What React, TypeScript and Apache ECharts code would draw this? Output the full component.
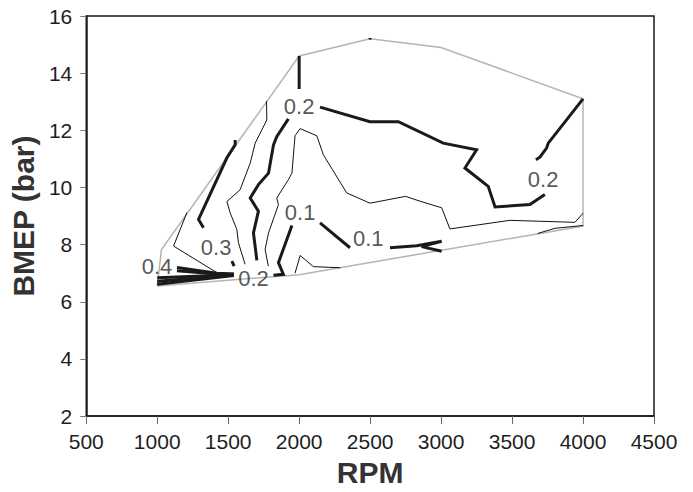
import React, { useEffect, useRef } from "react";
import * as echarts from "echarts";

// Axis ticks
const xMin = 500;
const xMax = 4500;
const xStep = 500;
const yMin = 2;
const yMax = 16;
const yStep = 2;

// Measured operating boundary (gray hull) [RPM, BMEP]
const boundary: number[][] = [
  [1000, 6.55], [1030, 7.83], [2000, 14.6], [2500, 15.2], [3000, 14.9],
  [4000, 13.1], [4000, 8.65], [2000, 6.95], [1000, 6.55],
];

// Thick (labelled) contour pieces
const c02Top: number[][] = [[2000, 14.6], [2000, 13.45]];
const c02Right: number[][] = [
  [2147, 12.81], [2499, 12.3], [2699, 12.3], [3015, 11.55], [3250, 11.32],
  [3168, 10.68], [3332, 10.04], [3380, 9.32], [3626, 9.4], [3731, 9.75],
];
const c02RightEnd: number[][] = [
  [3668, 10.97], [3696, 11.06], [3743, 11.38], [3755, 11.55], [4000, 13.1],
];
const c02Mid: number[][] = [
  [1924, 12.4], [1842, 11.78], [1819, 11.49], [1784, 10.5], [1713, 10.1],
  [1655, 9.63], [1713, 9.17], [1678, 8.41], [1702, 7.45],
];
const c03: number[][] = [[1549, 11.66], [1549, 11.49], [1491, 11.04], [1291, 8.88], [1326, 8.59]];
const c03Tail: number[][] = [[1526, 7.42], [1542, 7.25]];
const c01Left: number[][] = [[1949, 8.67], [1854, 7.37], [1889, 6.96], [1819, 6.93]];
const c01Right: number[][] = [[2147, 8.76], [2358, 7.89]];
const c01RightEnd: number[][] = [[2640, 7.89], [2828, 7.96], [3004, 8.12], [2863, 7.93], [3004, 7.77]];
const c04a: number[][] = [[1139, 7.2], [1420, 7.0], [1540, 6.97]];
const c04b: number[][] = [[1139, 7.09], [1420, 6.97], [1540, 6.96]];
const c04c: number[][] = [[1000, 6.84], [1540, 6.95]];
const c04d: number[][] = [[1000, 6.72], [1540, 6.94]];
const c04e: number[][] = [[1000, 6.61], [1540, 6.92]];
const peakMark: number[][] = [[2490, 15.2], [2510, 15.2]];

// Thin (intermediate) contour pieces
const t035: number[][] = [[1209, 9.12], [1115, 7.95], [1420, 7.02]];
const t025: number[][] = [
  [1770, 13.02], [1772, 12.36], [1690, 11.55], [1655, 10.85], [1584, 9.92],
  [1491, 9.51], [1514, 9.11], [1561, 8.53], [1572, 8.07], [1619, 7.31],
];
const t015: number[][] = [
  [1783, 7.25], [1760, 7.83], [1784, 8.41], [1854, 9.4], [1842, 9.63],
  [1924, 10.27], [1949, 10.5], [1971, 11.81], [2007, 12.06], [2124, 11.81],
  [2171, 11.14], [2335, 9.81], [2499, 9.45], [2750, 9.69], [2851, 9.52],
  [3004, 9.29], [3062, 8.55], [3485, 8.85], [3943, 8.78], [4000, 9.1],
];
const tBump: number[][] = [[1971, 7.0], [2007, 7.62], [2100, 7.23], [2290, 7.19]];
const tHook: number[][] = [[3680, 8.39], [3802, 8.57], [4000, 8.67]];

// Contour labels
const labelText = ["0.2", "0.2", "0.1", "0.1", "0.3", "0.4", "0.2"];
const labelX = [2000, 3719, 2007, 2487, 1415, 998, 1678];
const labelY = [12.85, 10.27, 9.12, 8.21, 7.89, 7.25, 6.82];

const FONT = "Liberation Sans, Arial, Helvetica, sans-serif";

export default function App() {
  const ref = useRef<HTMLDivElement>(null);
  useEffect(() => {
    if (!ref.current) return;
    const chart = echarts.init(ref.current, null, { renderer: "svg" });
    const lineSeries = (data: number[][], width: number, color: string, z = 3) => ({
      type: "line",
      data,
      symbol: "none",
      showSymbol: false,
      silent: true,
      z,
      lineStyle: { width, color, join: "miter" },
    });
    const thick = [c02Top, c02Right, c02RightEnd, c02Mid, c03, c03Tail, c01Left, c01Right, c01RightEnd, c04a, c04b, c04c, c04d, c04e];
    const thin = [t035, t025, t015, tBump, tHook];
    chart.setOption({
      animation: false,
      grid: {
        left: 86, right: 39, top: 16, bottom: 75,
        show: true, borderColor: "#1a1a1a", borderWidth: 1.5,
      },
      xAxis: {
        type: "value", min: xMin, max: xMax, interval: xStep,
        name: "RPM", nameLocation: "middle", nameGap: 37,
        nameTextStyle: { fontSize: 30, fontWeight: "bold", color: "#333", fontFamily: FONT },
        axisLine: { show: true, lineStyle: { color: "#1a1a1a", width: 1.5 } },
        axisTick: { show: true, length: 8, lineStyle: { color: "#666" } },
        axisLabel: { fontSize: 21, color: "#1e1e1e", margin: 15, fontFamily: FONT, formatter: (v: number) => String(v) },
        splitLine: { show: false },
      },
      yAxis: {
        type: "value", min: yMin, max: yMax, interval: yStep,
        name: "BMEP (bar)", nameLocation: "middle", nameGap: 43, nameRotate: 90,
        nameTextStyle: { fontSize: 30, fontWeight: "bold", color: "#333", fontFamily: FONT },
        axisLine: { show: true, lineStyle: { color: "#1a1a1a", width: 1.5 } },
        axisTick: { show: true, length: 6, lineStyle: { color: "#777" } },
        axisLabel: { fontSize: 21, color: "#1e1e1e", margin: 14, fontFamily: FONT, formatter: (v: number) => String(v) },
        splitLine: { show: false },
      },
      series: [
        lineSeries(boundary, 1.5, "#b5b5b5", 2),
        lineSeries(peakMark, 1.5, "#111", 3),
        ...thin.map((d) => lineSeries(d, 1, "#111", 3)),
        ...thick.map((d) => lineSeries(d, 3, "#1a1a1a", 4)),
        {
          type: "scatter",
          z: 5,
          silent: true,
          symbol: "circle",
          symbolSize: 1,
          itemStyle: { color: "rgba(0,0,0,0)" },
          data: labelText.map((t, i) => ({ name: t, value: [labelX[i], labelY[i]] })),
          label: {
            show: true, position: "inside", formatter: "{b}",
            fontSize: 22, color: "#2a2a2a", fontFamily: FONT,
          },
        },
      ],
    });
    return () => chart.dispose();
  }, []);
  return <div ref={ref} style={{ width: 693, height: 492, position: "absolute", left: 0, top: 0 }} />;
}
